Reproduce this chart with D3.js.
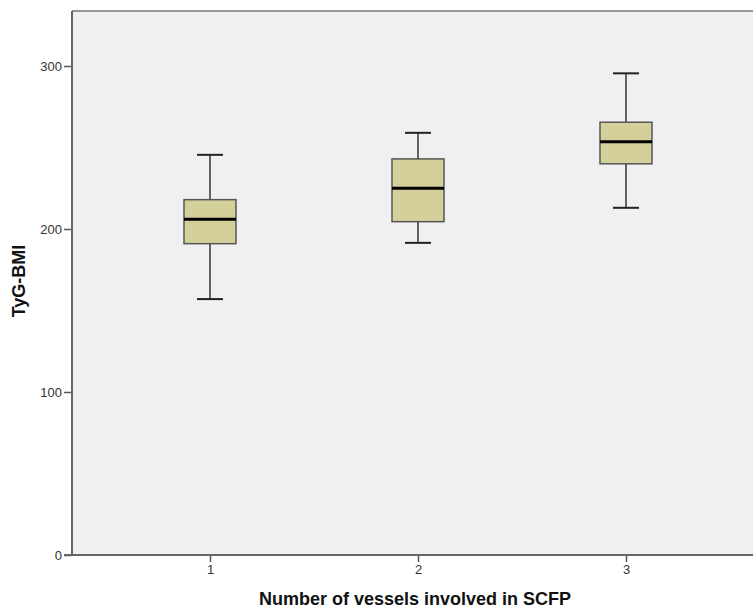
<!DOCTYPE html>
<html>
<head>
<meta charset="utf-8">
<script src="https://cdn.jsdelivr.net/npm/d3@7"></script>
<style>
	body { margin: 0; background: #fff; }
	svg { display: block; font-family: "Liberation Sans", Arial, sans-serif; }
	.tick-label { font-size: 13px; fill: #333; }
	.label { font-size: 18px; font-weight: bold; fill: #111; }
</style>
</head>
<body>
<script>
//the data
var groups = ["1", "2", "3"],
	whiskLow = [157, 191.5, 213],
	q1 = [191, 204.5, 240],
	median = [206, 225, 253.5],
	q3 = [218, 243, 265.5],
	whiskHigh = [245.5, 259, 295.5],
	yTicks = [0, 100, 200, 300];

var width = 753, height = 610;
var plotLeft = 72, plotTop = 11, plotBottom = 555;

var svg = d3.select("body").append("svg")
	.attr("width", width)
	.attr("height", height);

var xScale = d3.scaleLinear().domain([1, 3]).range([210, 626]),
	yScale = d3.scaleLinear().domain([0, 300]).range([plotBottom, 66]);

//plot background
svg.append("rect")
	.attr("x", plotLeft)
	.attr("y", plotTop)
	.attr("width", width - plotLeft + 5)
	.attr("height", plotBottom - plotTop)
	.style("fill", "#f0f0f0");

//top border
svg.append("line")
	.attr("x1", plotLeft).attr("x2", width)
	.attr("y1", plotTop).attr("y2", plotTop)
	.style("stroke", "#777").style("stroke-width", 1.5);

//axes
var yAxis = d3.axisLeft(yScale).tickValues(yTicks).tickSize(8).tickPadding(2);
var gY = svg.append("g")
	.attr("transform", "translate(" + plotLeft + ",0)")
	.call(yAxis);
gY.select(".domain").remove();
gY.append("line")
	.attr("x1", 0).attr("x2", 0)
	.attr("y1", plotTop).attr("y2", plotBottom)
	.style("stroke", "#666").style("stroke-width", 2);

var xAxis = d3.axisBottom(xScale).tickValues([1, 2, 3]).tickFormat(function(d, i) { return groups[i]; })
	.tickSize(7).tickPadding(3);
var gX = svg.append("g")
	.attr("transform", "translate(0," + plotBottom + ")")
	.call(xAxis);
gX.select(".domain").remove();
gX.append("line")
	.attr("x1", plotLeft - 8).attr("x2", width)
	.attr("y1", 0).attr("y2", 0)
	.style("stroke", "#666").style("stroke-width", 2);

svg.selectAll(".tick line").style("stroke", "#555").style("stroke-width", 1.5);
svg.selectAll(".tick text").attr("class", "tick-label").attr("fill", null);
gY.selectAll(".tick text").attr("dy", "0.36em");

//axis labels
svg.append("text")
	.attr("class", "label")
	.attr("x", 415)
	.attr("y", 605)
	.style("text-anchor", "middle")
	.text("Number of vessels involved in SCFP");
svg.append("text")
	.attr("class", "label")
	.attr("transform", "rotate(-90)")
	.attr("x", -281)
	.attr("y", 25)
	.style("text-anchor", "middle")
	.text("TyG-BMI");

//boxes
var boxW = 52, capW = 26;
var data = groups.map(function(g, i) {
	return {x: i + 1, lo: whiskLow[i], q1: q1[i], med: median[i], q3: q3[i], hi: whiskHigh[i]};
});

var box = svg.append("g").selectAll("g")
	.data(data).enter()
	.append("g");

//whisker stems
box.append("line")
	.attr("x1", function(d) { return xScale(d.x); })
	.attr("x2", function(d) { return xScale(d.x); })
	.attr("y1", function(d) { return yScale(d.hi); })
	.attr("y2", function(d) { return yScale(d.lo); })
	.style("stroke", "#333").style("stroke-width", 1.5);

//caps
["hi", "lo"].forEach(function(k) {
	box.append("line")
		.attr("x1", function(d) { return xScale(d.x) - capW / 2; })
		.attr("x2", function(d) { return xScale(d.x) + capW / 2; })
		.attr("y1", function(d) { return yScale(d[k]); })
		.attr("y2", function(d) { return yScale(d[k]); })
		.style("stroke", "#222").style("stroke-width", 2);
});

box.append("rect")
	.attr("x", function(d) { return xScale(d.x) - boxW / 2; })
	.attr("y", function(d) { return yScale(d.q3); })
	.attr("width", boxW)
	.attr("height", function(d) { return yScale(d.q1) - yScale(d.q3); })
	.style("fill", "#d4d09a")
	.style("stroke", "#555")
	.style("stroke-width", 1.5);

box.append("line")
	.attr("x1", function(d) { return xScale(d.x) - boxW / 2; })
	.attr("x2", function(d) { return xScale(d.x) + boxW / 2; })
	.attr("y1", function(d) { return yScale(d.med); })
	.attr("y2", function(d) { return yScale(d.med); })
	.style("stroke", "#000").style("stroke-width", 3);
</script>
</body>
</html>
